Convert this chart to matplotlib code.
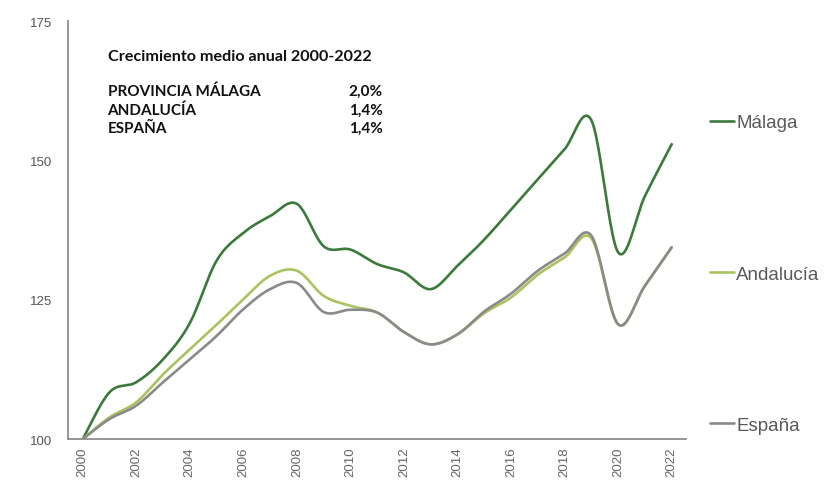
import numpy as np
import matplotlib
matplotlib.use("Agg")
import matplotlib.pyplot as plt

plt.rcParams["font.family"] = ["Liberation Sans", "DejaVu Sans"]

# Indice base 2000 = 100
years = list(range(2000, 2023))
malaga = [100.0, 108.4, 110.2, 114.3, 120.8, 132.0, 137.0, 140.0, 142.2, 134.6, 134.0, 131.4,
          129.9, 126.9, 131.1, 135.8, 141.2, 146.6, 152.0, 157.2, 133.5, 143.6, 152.9]
andalucia = [100.0, 103.9, 106.6, 111.6, 116.1, 120.5, 125.1, 129.3, 130.2, 125.7, 123.9, 122.7,
             119.2, 117.0, 118.8, 122.6, 125.4, 129.5, 132.6, 136.0, 120.6, 127.5, 134.4]
espana = [100.0, 103.6, 106.0, 110.2, 114.3, 118.5, 123.3, 126.9, 128.0, 122.8, 123.2, 122.7,
          119.2, 117.0, 118.8, 122.9, 126.1, 130.2, 133.3, 136.5, 120.6, 127.5, 134.4]

series_names = ["Málaga", "Andalucía", "España"]
series_colors = ["#3a7a3a", "#a9c45e", "#8a8a8a"]

summary_title = "Crecimiento medio anual 2000-2022"
summary_rows = ["PROVINCIA MÁLAGA", "ANDALUCÍA", "ESPAÑA"]
summary_values = ["2,0%", "1,4%", "1,4%"]


def smooth(x, y, n=24):
    # Catmull-Rom spline through every point (curved lines as in spreadsheet charts)
    x = np.asarray(x, float)
    y = np.asarray(y, float)
    px = np.concatenate([[x[0]], x, [x[-1]]])
    py = np.concatenate([[y[0]], y, [y[-1]]])
    xs, ys = [], []
    t = np.linspace(0, 1, n, endpoint=False)
    for i in range(1, len(px) - 2):
        for p, out in ((px, xs), (py, ys)):
            p0, p1, p2, p3 = p[i - 1], p[i], p[i + 1], p[i + 2]
            out.extend(0.5 * (2 * p1 + (-p0 + p2) * t
                              + (2 * p0 - 5 * p1 + 4 * p2 - p3) * t ** 2
                              + (-p0 + 3 * p1 - 3 * p2 + p3) * t ** 3))
    xs.append(x[-1])
    ys.append(y[-1])
    return np.array(xs), np.array(ys)


fig = plt.figure(figsize=(8.29, 4.89), dpi=100)
ax = fig.add_axes([0.082, 0.1, 0.746, 0.855])

pos = np.arange(len(years))
for name, values, color in zip(series_names, [malaga, andalucia, espana], series_colors):
    sx, sy = smooth(pos, values)
    ax.plot(sx, sy, color=color, lw=1.9, label=name, solid_capstyle="round")

ax.set_xlim(-0.55, len(years) - 0.45)
ax.set_ylim(100, 175)
ax.set_yticks([100, 125, 150, 175])
ax.set_xticks(pos[::2])
ax.set_xticklabels([str(y) for y in years[::2]], rotation=90)
ax.tick_params(axis="y", length=0, pad=11, labelsize=9.5, labelcolor="#555555")
ax.tick_params(axis="x", length=0, pad=5, labelsize=9.5, labelcolor="#666666")

for side in ["top", "right"]:
    ax.spines[side].set_visible(False)
for side in ["left", "bottom"]:
    ax.spines[side].set_color("#8c8c8c")
    ax.spines[side].set_linewidth(1.3)

# Recuadro de crecimiento medio
ax.text(0.064, 0.916, summary_title, transform=ax.transAxes, fontsize=11.6,
        fontweight="bold", family="Lato", color="#111111", va="center")
for i, (row, val) in enumerate(zip(summary_rows, summary_values)):
    yy = 0.832 - i * 0.044
    ax.text(0.064, yy, row, transform=ax.transAxes, fontsize=11, fontweight="bold",
            family="Lato", color="#111111", va="center")
    ax.text(0.509, yy, val, transform=ax.transAxes, fontsize=11, fontweight="bold",
            family="Lato", color="#111111", va="center", ha="right")

leg = ax.legend(loc="upper left", bbox_to_anchor=(1.026, 0.795), frameon=False,
                fontsize=13.5, handlelength=1.3, handletextpad=0.1, labelspacing=7.15,
                borderaxespad=0)
for txt in leg.get_texts():
    txt.set_color("#595959")

fig.savefig("out.png", dpi=100, facecolor="white")
